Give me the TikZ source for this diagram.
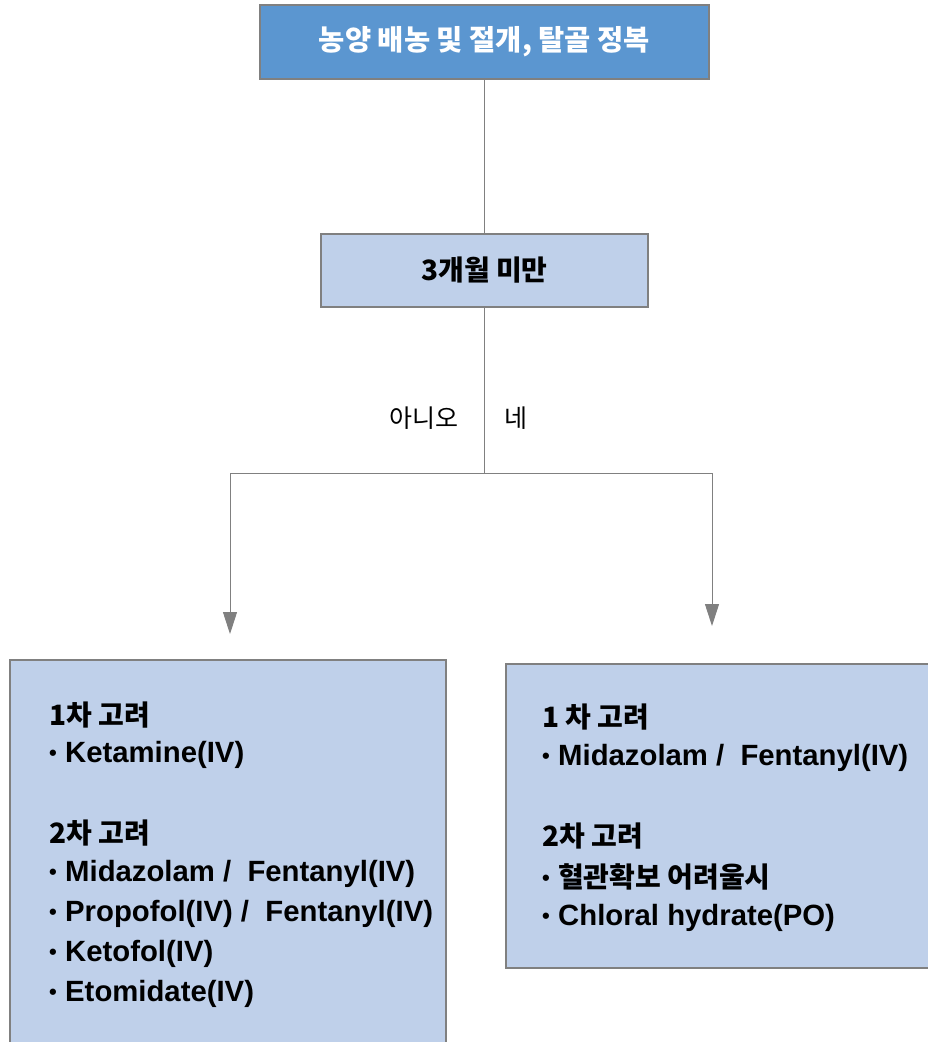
\documentclass[tikz,border=0pt]{standalone}
\usepackage{fontspec}
\setmainfont{Liberation Sans}
\newfontfamily\kr{Noto Sans CJK KR}
\usetikzlibrary{arrows.meta}
\definecolor{topblue}{HTML}{5B96D0}
\definecolor{boxblue}{HTML}{BFD0EA}
\definecolor{edgegray}{HTML}{808080}
\newcommand{\bul}{\makebox[16pt][l]{\raisebox{1.5pt}{\fontsize{22}{22}\selectfont •}}}
\begin{document}
\begin{tikzpicture}[x=1pt,y=-1pt,
  box/.style={draw=edgegray,line width=2pt,inner sep=0pt},
  conn/.style={draw=edgegray,line width=1pt},
  arr/.style={conn,-{Triangle[width=14pt,length=22pt]}},
  lbl/.style={inner sep=0pt,font=\kr\fontsize{25}{28}\selectfont},
  txt/.style={anchor=base west,inner sep=0pt,font=\fontsize{29.3}{34}\selectfont\bfseries},
  krh/.style={anchor=base west,inner sep=0pt,font=\kr\bfseries\fontsize{28}{32}\selectfont}
]
\useasboundingbox (0,0) rectangle (928,1042);
% boxes
\node[box,fill=topblue,minimum width=449pt,minimum height=74pt,text=white,font=\kr\bfseries\fontsize{28.5}{32}\selectfont] (top) at (484.5,42) {농양 배농 및 절개, 탈골 정복};
\node[box,fill=boxblue,minimum width=327pt,minimum height=73pt,font=\kr\bfseries\fontsize{28}{32}\selectfont] (q) at (484.5,270.5) {3개월 미만};
\node[box,fill=boxblue,minimum width=436pt,minimum height=400pt,anchor=north west] (L) at (9,659) {};
\node[box,fill=boxblue,minimum width=430pt,minimum height=304pt,anchor=north west] (R) at (505,663) {};
% connectors
\coordinate (split) at (484.5,473);
\coordinate (la) at (230,634);
\coordinate (ra) at (712,626);
\draw[conn] (top.south) -- (q.north);
\draw[conn] (q.south) -- (split);
\draw[arr] (split) -| (la);
\draw[arr] (split) -| (ra);
\node[lbl] (no) at (424,418) {아니오};
\node[lbl] (yes) at (516,418) {네};
% left text
\node[krh] (l1) at (49,725) {1차 고려};
\node[txt] (l2) at (49,762) {\bul Ketamine(IV)};
\node[krh] (l3) at (49,843) {2차 고려};
\node[txt] (l4) at (49,881) {\bul Midazolam /\ \ Fentanyl(IV)};
\node[txt] (l5) at (49,921) {\bul Propofol(IV) /\ \ Fentanyl(IV)};
\node[txt] (l6) at (49,961) {\bul Ketofol(IV)};
\node[txt] (l7) at (49,1001) {\bul Etomidate(IV)};
% right text
\node[krh] (r1) at (542,727) {1 차 고려};
\node[txt] (r2) at (542,765) {\bul Midazolam /\ \ Fentanyl(IV)};
\node[krh] (r3) at (542,846) {2차 고려};
\node[txt] (r4) at (542,887) {\bul{\kr\fontsize{28}{32}\selectfont 혈관확보 어려울시}};
\node[txt] (r5) at (542,925) {\bul Chloral hydrate(PO)};
\end{tikzpicture}
\end{document}
